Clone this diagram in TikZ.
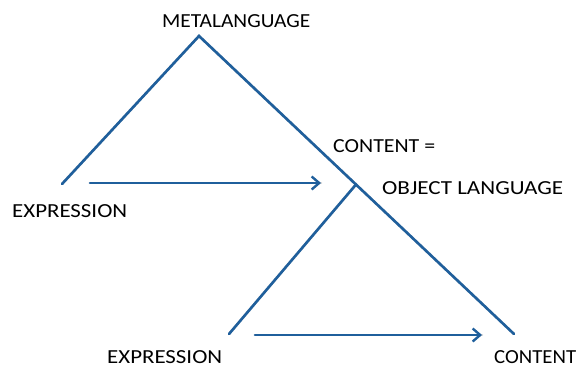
\documentclass[tikz,border=0pt]{standalone}
\usepackage{fontspec}
\setmainfont{Carlito}
\usetikzlibrary{arrows.meta}
\definecolor{lineblue}{HTML}{1F5F9C}
% set a label at a given width, keeping its natural height
\newcommand{\fitlabel}[2]{\resizebox{#1}{\height}{#2}}
\begin{document}
\begin{tikzpicture}[x=1bp,y=-1bp,
  lbl/.style={inner sep=0pt,anchor=base west,font=\fontsize{20}{22}\selectfont},
  leg/.style={draw=lineblue,line width=2.6bp,line cap=round},
  flow/.style={leg,-{Straight Barb[length=7.5bp,width=13bp,line width=2.4bp]}}]
\useasboundingbox (0,0) rectangle (581,367);
% corner points of the two triangles
\coordinate (top) at (199,36);
\coordinate (lexp) at (62,184);
\coordinate (rcont) at (514,334);
\coordinate (mid) at (356,184.5);
\coordinate (bexp) at (229,334);
% labels
\node[lbl] (meta) at (162,27.7) {\fitlabel{148bp}{METALANGUAGE}};
\node[lbl] (expA) at (12,217.7) {\fitlabel{115bp}{EXPRESSION}};
\node[lbl] (conteq) at (333,152.7) {\fitlabel{102bp}{CONTENT =}};
\node[lbl] (obj) at (382,194.7) {\fitlabel{181bp}{OBJECT LANGUAGE}};
\node[lbl] (expB) at (107,363.5) {\fitlabel{115bp}{EXPRESSION}};
\node[lbl] (contB) at (494,363.5) {\fitlabel{82bp}{CONTENT}};
% arrow anchors
\coordinate (a1s) at (90,183);
\coordinate (a1e) at (321,183);
\coordinate (a2s) at (255,335);
\coordinate (a2e) at (482,335);
% soft shadows under the strokes
\begin{scope}[shift={(1.2,1.5)},draw opacity=0.18]
  \draw[leg,draw=black] (lexp) -- (top) -- (rcont);
  \draw[leg,draw=black] (mid) -- (bexp);
  \draw[leg,draw=black] (a1s) -- (a1e);
  \draw[leg,draw=black] (a2s) -- (a2e);
\end{scope}
% triangles
\draw[leg,line join=miter] (lexp) -- (top) -- (rcont);
\draw[leg] (mid) -- (bexp);
% flows from expression to content
\draw[flow] (a1s) -- (a1e);
\draw[flow] (a2s) -- (a2e);
\end{tikzpicture}
\end{document}
